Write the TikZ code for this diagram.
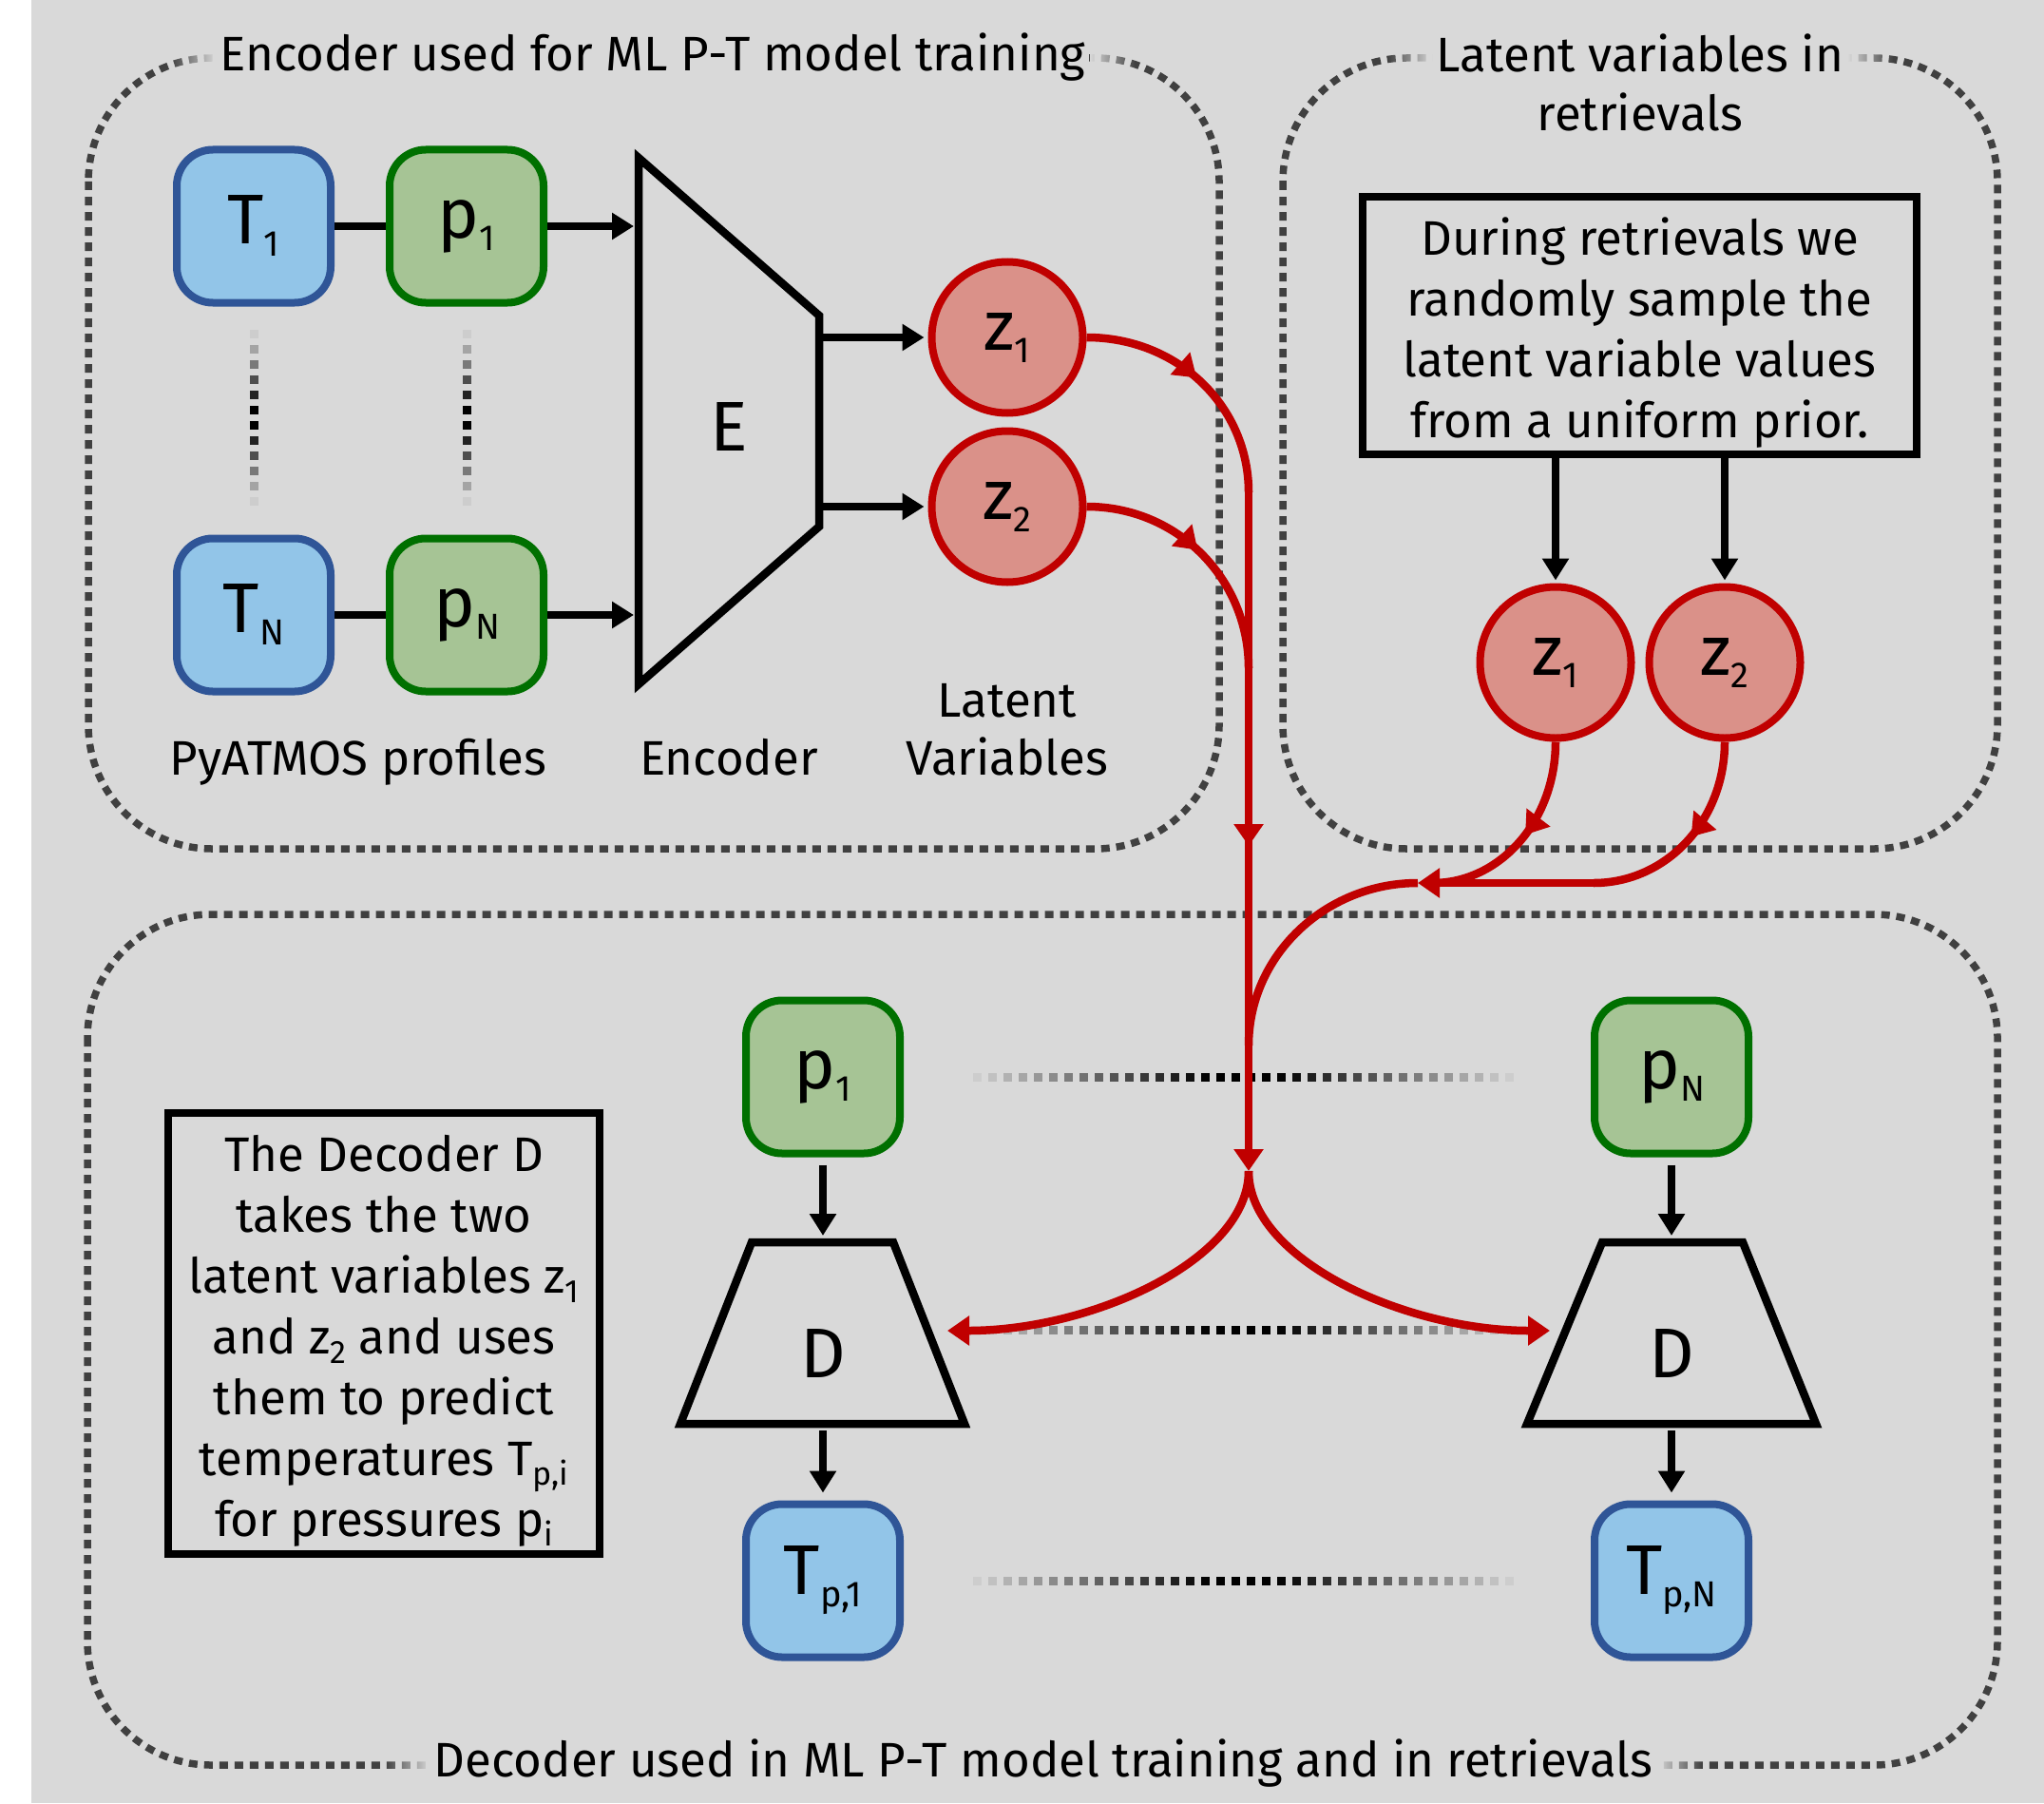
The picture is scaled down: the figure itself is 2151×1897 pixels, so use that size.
\documentclass[tikz,border=0pt]{standalone}
\usepackage{fontspec}
\setmainfont{Fira Sans}
\usetikzlibrary{arrows.meta,decorations.markings,fadings,calc}

\definecolor{bgc}{RGB}{217,217,217}
\definecolor{grpc}{RGB}{64,64,64}
\definecolor{dotl}{RGB}{205,205,205}
\definecolor{tblue}{RGB}{47,85,151}
\definecolor{tbluef}{RGB}{146,197,232}
\definecolor{pgreen}{RGB}{0,112,0}
\definecolor{pgreenf}{RGB}{166,196,149}
\definecolor{zred}{RGB}{192,0,0}
\definecolor{zredf}{RGB}{218,145,137}

\newcommand{\biglab}{\fontsize{74}{74}\selectfont}
\newcommand{\txt}{\fontsize{51}{64}\selectfont}
\newcommand{\bigsub}[2]{#1\raisebox{-13pt}{\fontsize{38}{38}\selectfont #2}}
\newcommand{\txsub}[1]{\raisebox{-10pt}{\fontsize{34}{34}\selectfont #1}}

% fade masks: opaque on one side, transparent on the other
\tikzfading[name=opright, left color=transparent!100, right color=transparent!0]
\tikzfading[name=opleft, left color=transparent!0, right color=transparent!100]

% row of small squares, dark in the middle and light at both ends
\newcommand{\fadedotsH}[4]{% y, x0, last index, step
  \foreach \i in {0,...,#3}{%
    \pgfmathsetmacro{\xx}{#2+\i*#4}%
    \pgfmathtruncatemacro{\kk}{min(100,115*(1-abs(\i-#3/2)/(#3/2)))}%
    \fill[black!\kk!dotl] (\xx-4.5,#1-4.5) rectangle (\xx+4.5,#1+4.5);
  }}
\newcommand{\fadedotsV}[4]{% x, y0, last index, step
  \foreach \i in {0,...,#3}{%
    \pgfmathsetmacro{\yy}{#2+\i*#4}%
    \pgfmathtruncatemacro{\kk}{min(100,115*(1-abs(\i-#3/2)/(#3/2)))}%
    \fill[black!\kk!dotl] (#1-4.5,\yy-4.5) rectangle (#1+4.5,\yy+4.5);
  }}

\tikzset{
  group/.style={draw=grpc, line width=7.5pt, dash pattern=on 9pt off 7pt, rounded corners=130pt},
  gtitle/.style={fill=bgc, inner xsep=4pt, inner ysep=3pt, font=\txt, anchor=base},
  lab/.style={font=\txt, anchor=base, inner sep=0pt},
  tb/.style={rectangle, rounded corners=38pt, draw=tblue, fill=tbluef, line width=8pt,
             minimum width=162pt, minimum height=161pt, font=\biglab, inner sep=0pt},
  pb/.style={tb, draw=pgreen, fill=pgreenf},
  zc/.style={circle, draw=zred, fill=zredf, line width=8pt, minimum size=159pt,
             font=\biglab, inner sep=0pt},
  note/.style={rectangle, draw=black, line width=8.5pt, inner sep=0pt},
  notetext/.style={align=center, font=\txt, inner sep=0pt},
  trap/.style={draw=black, line width=8.5pt, line join=miter},
  bline/.style={draw=black, line width=8.5pt},
  arr/.style={bline, -{Triangle[width=27pt,length=23pt]}},
  rline/.style={draw=zred, line width=8.5pt},
  rarr/.style={rline, -{Triangle[width=30pt,length=23pt]}},
  midarrow/.style={postaction={decorate}, decoration={markings,
      mark=at position #1 with {\arrow[zred]{Triangle[width=30pt,length=23pt]}}}},
}

\begin{document}
\begin{tikzpicture}[x=1pt,y=-1pt]
\useasboundingbox (0,0) rectangle (2151,1897);
\fill[white] (0,0) rectangle (2151,1897);
\fill[bgc] (33,0) rectangle (2151,1897);

% dotted group frames
\draw[group] (93,61) rectangle (1283,893);
\draw[group] (1350,61) rectangle (2102,893);
\draw[group] (92,962) rectangle (2102,1857);

% group titles
\node[gtitle] (t1) at (687,75) {Encoder used for ML P-T model training};
\node[gtitle] (t2) at (1726,76) {Latent variables in};
\node[lab] (t2b) at (1726,138) {retrievals};
\node[gtitle] (t3) at (1098,1869) {Decoder used in ML P-T model training and in retrievals};
\foreach \t in {t1,t2,t3}{
  \fill[bgc, path fading=opright] ($(\t.west)+(-48,-14)$) rectangle ($(\t.west)+(0,14)$);
  \fill[bgc, path fading=opleft] ($(\t.east)+(0,-14)$) rectangle ($(\t.east)+(48,14)$);
}

% ---------------- encoder ----------------
\fadedotsV{267}{351}{11}{16}
\fadedotsV{491}{351}{11}{16}

\node[tb] (T1) at (267,238) {\bigsub{T}{1}};
\node[pb] (p1) at (491,238) {\bigsub{p}{1}};
\node[tb] (TN) at (267,647) {\bigsub{T}{N}};
\node[pb] (pN) at (491,647) {\bigsub{p}{N}};

\coordinate (Ea) at (672,166);
\coordinate (Eb) at (862,332);
\coordinate (Ec) at (862,554);
\coordinate (Ed) at (672,720);
\draw[trap] (Ea) -- (Eb) -- (Ec) -- (Ed) -- cycle;
\node[font=\biglab, inner sep=0pt] (E) at (767,449) {E};
\coordinate (Ein1) at (667,238);
\coordinate (Ein2) at (667,647);
\coordinate (Eout1) at (862,355);
\coordinate (Eout2) at (862,533);

\node[zc] (z1) at (1060,355) {\bigsub{z}{1}};
\node[zc] (z2) at (1060,533) {\bigsub{z}{2}};

\draw[bline] (T1) -- (p1);
\draw[bline] (TN) -- (pN);
\draw[arr] (p1) -- (Ein1);
\draw[arr] (pN) -- (Ein2);
\draw[arr, shorten >=4pt] (Eout1) -- (z1);
\draw[arr, shorten >=4pt] (Eout2) -- (z2);

\node[lab] (lprof) at (377,815) {PyATMOS profiles};
\node[lab] (lenc) at (767,815) {Encoder};
\node[lab] (llat1) at (1060,754) {Latent};
\node[lab] (llat2) at (1060,815) {Variables};

% ---------------- latent variables in retrievals ----------------
\node[note, minimum width=583pt, minimum height=271pt] (n1) at (1725.5,342.5) {};
\node[notetext] (n1t) at (1725.5,350) {During retrievals we\\randomly sample the\\latent variable values\\from a uniform prior.};
\node[zc] (z1r) at (1637,697) {\bigsub{z}{1}};
\node[zc] (z2r) at (1815,697) {\bigsub{z}{2}};
\draw[arr, shorten >=3pt] (n1.south -| z1r) -- (z1r);
\draw[arr, shorten >=3pt] (n1.south -| z2r) -- (z2r);

% ---------------- decoder ----------------
\fadedotsH{1133}{1028}{35}{16}
\fadedotsH{1399}{1028}{35}{16}
\fadedotsH{1663}{1028}{35}{16}

\node[note, minimum width=454pt, minimum height=464pt] (n2) at (404,1403) {};
\node[notetext] (n2t) at (404,1411)
  {The Decoder D\\takes the two\\latent variables z\txsub{1}\\and z\txsub{2} and uses\\them to predict\\temperatures T\txsub{p,i}\\for pressures p\txsub{i}};

\node[pb] (p1d) at (866,1133) {\bigsub{p}{1}};
\node[pb] (pNd) at (1759,1133) {\bigsub{p}{N}};
\node[tb] (Tp1) at (866,1663) {\bigsub{T}{p,1}};
\node[tb] (TpN) at (1759,1663) {\bigsub{T}{p,N}};

\draw[trap] (791,1307) -- (940,1307) -- (1015,1498) -- (716,1498) -- cycle;
\draw[trap] (1686,1307) -- (1834,1307) -- (1911,1498) -- (1607,1498) -- cycle;
\node[font=\biglab, inner sep=0pt] (D1) at (866,1424) {D};
\node[font=\biglab, inner sep=0pt] (D2) at (1759,1424) {D};
\coordinate (D1t) at (866,1300);
\coordinate (D1b) at (866,1505);
\coordinate (D2t) at (1759,1300);
\coordinate (D2b) at (1759,1505);
\coordinate (D1in) at (997,1400);
\coordinate (D2in) at (1631,1400);

\draw[arr, shorten <=8pt] (p1d) -- (D1t);
\draw[arr, shorten <=8pt] (pNd) -- (D2t);
\draw[arr, shorten >=8pt] (D1b) -- (Tp1);
\draw[arr, shorten >=8pt] (D2b) -- (TpN);

% ---------------- latent variable routing ----------------
\coordinate (v1) at (1314,518);
\coordinate (v2) at (1314,703);
\coordinate (v3) at (1314,1100);
\coordinate (split) at (1314,1232);
\coordinate (h1) at (1492,929);
\coordinate (hj) at (1508,929);
\coordinate (h2) at (1677,929);

\draw[rline, midarrow=0.48] (z1) .. controls (1240,355) and (1314,428) .. (v1);
\draw[rline, midarrow=0.48] (z2) .. controls (1240,533) and (1314,610) .. (v2);
\draw[rline, midarrow=0.48] (z1r) .. controls (1637,864) and (1578,929) .. (hj);
\draw[rline, midarrow=0.48] (z2r) .. controls (1815,864) and (1753,929) .. (h2);
\draw[rarr] (h2) -- (h1);
\draw[rline] (h1) .. controls (1394,929) and (1314,1006) .. (v3);
\draw[rarr, midarrow=372pt] (v1) -- (split);
\draw[rarr] (split) .. controls (1314,1325) and (1150,1400) .. (D1in);
\draw[rarr] (split) .. controls (1314,1325) and (1478,1400) .. (D2in);
\end{tikzpicture}
\end{document}
